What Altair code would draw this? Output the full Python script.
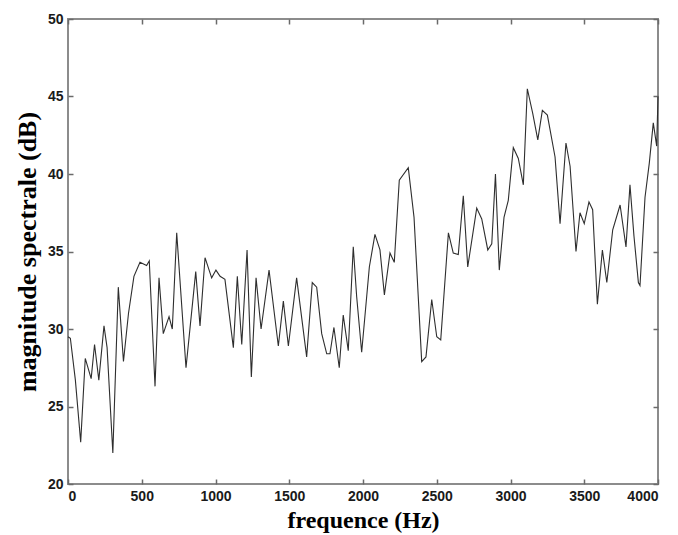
import altair as alt
import pandas as pd

# ---- data ----
freq = [0, 16, 50, 86, 117, 157, 180, 209, 244, 265, 304, 341, 376, 410, 447, 488,
        533, 551, 590, 617, 646, 685, 707, 737, 800, 866, 895, 929, 974, 1003, 1031,
        1064, 1121, 1148, 1178, 1214, 1243, 1275, 1309, 1363, 1426, 1460, 1494, 1550,
        1618, 1656, 1686, 1720, 1754, 1776, 1803, 1839, 1866, 1900, 1934, 1957, 1991,
        2043, 2081, 2115, 2145, 2183, 2212, 2246, 2307, 2346, 2398, 2427, 2466, 2500,
        2527, 2579, 2612, 2646, 2680, 2710, 2771, 2805, 2846, 2873, 2898, 2924, 2956,
        2985, 3019, 3053, 3087, 3114, 3151, 3185, 3216, 3250, 3302, 3336, 3376, 3404,
        3444, 3471, 3500, 3532, 3557, 3589, 3623, 3653, 3693, 3743, 3783, 3810, 3837,
        3867, 3878, 3912, 3941, 3968, 3991, 4000]
mag = [29.5, 29.4, 26.7, 22.7, 28.1, 26.8, 29.0, 26.7, 30.2, 28.8, 22.0, 32.7, 27.9,
       31.0, 33.4, 34.3, 34.1, 34.4, 26.3, 33.3, 29.7, 30.8, 30.0, 36.2, 27.5, 33.7,
       30.2, 34.6, 33.3, 33.8, 33.4, 33.2, 28.8, 33.4, 29.0, 35.1, 26.9, 33.3, 30.0,
       33.8, 28.9, 31.8, 28.9, 33.3, 28.2, 33.0, 32.7, 29.7, 28.4, 28.4, 30.1, 27.5,
       30.9, 28.6, 35.3, 32.1, 28.5, 34.0, 36.1, 35.1, 32.2, 34.9, 34.3, 39.6, 40.4,
       37.2, 27.9, 28.2, 31.9, 29.5, 29.3, 36.2, 34.9, 34.8, 38.6, 34.0, 37.8, 37.1,
       35.1, 35.5, 40.0, 33.8, 37.2, 38.3, 41.7, 41.0, 39.3, 45.5, 43.9, 42.2, 44.1,
       43.8, 41.1, 36.8, 42.0, 40.5, 35.0, 37.5, 36.8, 38.2, 37.7, 31.6, 35.1, 33.0,
       36.4, 38.0, 35.3, 39.3, 36.0, 33.0, 32.8, 38.5, 40.7, 43.3, 41.8, 45.0]
x_ticks = [0, 500, 1000, 1500, 2000, 2500, 3000, 3500, 4000]
y_ticks = [20, 25, 30, 35, 40, 45, 50]

df = pd.DataFrame({"freq": freq, "mag": mag})

x_scale = alt.Scale(domain=[0, 4000], nice=False, zero=False)
y_scale = alt.Scale(domain=[20, 50], nice=False, zero=False)

TICK = "#6a6a6a"
LABEL_FONT = "Liberation Sans"
TITLE_FONT = "Liberation Serif"

base_axis = dict(domain=False, grid=False, tickSize=5, offset=-5,
                 tickColor=TICK, tickWidth=1.5)

x_bottom = alt.Axis(orient="bottom", values=x_ticks, format="d", title="frequence (Hz)",
                    labelFont=LABEL_FONT, labelFontSize=14, labelFontWeight="bold",
                    labelColor="#1a1a1a", labelPadding=5,
                    titleFont=TITLE_FONT, titleFontSize=24, titleFontWeight="bold",
                    titleColor="#000000", titlePadding=5, **base_axis)
y_left = alt.Axis(orient="left", values=y_ticks, format="d", title="magnitude spectrale (dB)",
                  labelFont=LABEL_FONT, labelFontSize=14, labelFontWeight="bold",
                  labelColor="#1a1a1a", labelPadding=5,
                  titleFont=TITLE_FONT, titleFontSize=26, titleFontWeight="bold",
                  titleColor="#000000", titlePadding=7, **base_axis)
x_top = alt.Axis(orient="top", values=x_ticks, labels=False, title=None, **base_axis)
y_right = alt.Axis(orient="right", values=y_ticks, labels=False, title=None, **base_axis)

line = alt.Chart(df).mark_line(color="#2e2e2e", strokeWidth=1.1).encode(
    x=alt.X("freq:Q", scale=x_scale, axis=x_bottom),
    y=alt.Y("mag:Q", scale=y_scale, axis=y_left),
)

mirror = alt.Chart(df).mark_line(opacity=0).encode(
    x=alt.X("freq:Q", scale=x_scale, axis=x_top),
    y=alt.Y("mag:Q", scale=y_scale, axis=y_right),
)

chart = alt.layer(line, mirror).resolve_axis(
    x="independent", y="independent"
).properties(
    width=590, height=465,
    autosize=alt.AutoSizeParams(type="none"),
    padding={"left": 68, "top": 19, "right": 20, "bottom": 51},
    background="white",
).configure_view(stroke="#8c8c8c", strokeWidth=2)

chart.save("out.html", embed_options={"renderer": "svg", "actions": False})
